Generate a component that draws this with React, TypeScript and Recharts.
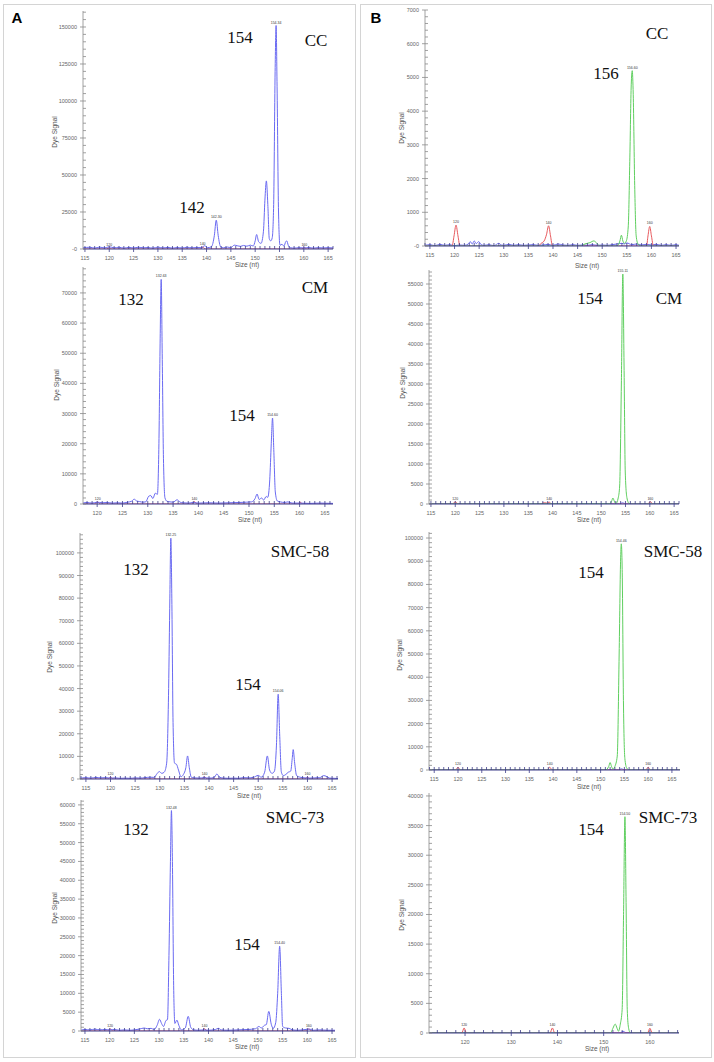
import React from "react";
import { LineChart, Line, XAxis, YAxis, ReferenceDot } from "recharts";

type Pt = [number, number];

// ---------- A: blue = sample dye, red = size standard ----------
const ccBlueA: Pt[] = [
  [114.6, 800], [116, 1200], [117, 600], [118, 1300], [119, 700], [120, 1500], [121, 800], [122, 1200],
  [123, 600], [124, 1100], [125, 700], [126, 1200], [127, 800], [128, 1000], [129, 600], [130, 1300],
  [131, 700], [132, 1100], [133, 600], [134, 1000], [135, 700], [136, 1200], [137, 800], [138, 1000],
  [139, 900], [139.6, 2200], [140.2, 900], [141.0, 1500], [141.6, 9000], [142.0, 19500], [142.4, 9000],
  [142.9, 1500], [143.5, 800], [144.3, 1300], [145, 900], [145.7, 2600], [146.3, 2200], [147, 1800],
  [147.6, 2400], [148.3, 1900], [149, 2600], [149.6, 2000], [150.0, 5500], [150.3, 9800], [150.7, 5000],
  [151.2, 3800], [151.7, 12000], [152.0, 33000], [152.3, 46000], [152.6, 30000], [152.9, 7000],
  [153.2, 5500], [153.5, 7500], [153.8, 30000], [154.1, 120000], [154.3, 151000], [154.5, 110000],
  [154.8, 25000], [155.1, 2500], [155.5, 3200], [155.9, 2000], [156.3, 5000], [156.5, 5500],
  [156.8, 2500], [157.2, 900], [158, 600], [159, 900], [160, 700], [161, 1000], [162, 600], [163, 900],
  [164, 700], [165, 900], [166, 700],
];
const ccRedA: Pt[] = [
  [114.6, 0], [119.5, 0], [120, 900], [120.5, 0], [138.6, 0], [139.2, 1200], [139.8, 0],
  [159.5, 0], [160.1, 900], [160.6, 0], [166, 0],
];
const cmBlueA: Pt[] = [
  [117.2, 300], [118, 500], [119, 300], [120, 600], [121, 400], [122, 500], [123, 300], [124, 400],
  [125, 300], [126, 600], [126.8, 900], [127.3, 1600], [127.8, 1000], [128.4, 800], [129.0, 600],
  [129.6, 700], [130.2, 2600], [130.6, 2800], [131.0, 1800], [131.5, 3600], [131.9, 3200],
  [132.2, 20000], [132.45, 55000], [132.65, 74500], [132.85, 50000], [133.1, 15000], [133.4, 2000],
  [133.8, 900], [134.4, 700], [135.0, 600], [135.8, 1400], [136.4, 600], [137, 400], [138, 300],
  [139, 500], [140, 300], [142, 400], [144, 300], [146, 400], [148, 500], [149.5, 600], [150.5, 700],
  [151.2, 1800], [151.6, 3300], [152.0, 1500], [152.5, 2000], [152.9, 1300], [153.4, 2500],
  [153.7, 2200], [154.1, 8000], [154.4, 20000], [154.65, 28500], [154.9, 18000], [155.2, 4000],
  [155.6, 1000], [156.2, 700], [157, 500], [157.7, 700], [158.5, 300], [160, 300], [162, 200],
  [164, 300], [166.6, 200],
];
const cmRedA: Pt[] = [
  [117.2, 0], [119.6, 0], [120.1, 700], [120.6, 0], [138.7, 0], [139.2, 800], [139.7, 0],
  [159.6, 0], [160.1, 600], [160.6, 0], [166.6, 0],
];
const smc58BlueA: Pt[] = [
  [113.8, 300], [115, 600], [116, 400], [117, 700], [118, 500], [119, 600], [120, 400], [121, 500],
  [122, 300], [123, 400], [124, 300], [125, 500], [126, 400], [127, 600], [128, 800], [128.8, 700],
  [129.5, 2500], [129.9, 3300], [130.4, 2500], [130.9, 3000], [131.4, 7000], [131.8, 40000],
  [132.05, 80000], [132.25, 106500], [132.45, 80000], [132.7, 25000], [133.0, 7000], [133.4, 6500],
  [133.8, 4000], [134.3, 1000], [134.8, 2000], [135.3, 5000], [135.65, 10200], [136.0, 5000],
  [136.4, 800], [137, 500], [138, 400], [139, 600], [140, 400], [141.0, 600], [141.6, 2200],
  [142.2, 700], [143, 400], [144, 300], [145, 400], [146, 300], [147, 600], [148, 500], [149, 700],
  [150, 1600], [150.6, 800], [151.3, 3000], [151.85, 10200], [152.3, 4000], [152.8, 2500],
  [153.3, 3500], [153.7, 15000], [154.05, 37500], [154.35, 20000], [154.7, 3000], [155.1, 1500],
  [155.6, 2000], [156.1, 3000], [156.6, 3500], [156.9, 9000], [157.1, 13000], [157.4, 7000],
  [157.8, 1500], [158.5, 800], [159.5, 500], [160.5, 400], [161.5, 500], [162.5, 600], [163.3, 1500],
  [163.8, 1200], [164.5, 400], [165.5, 300], [166.2, 200],
];
const smc58RedA: Pt[] = [
  [113.8, 0], [119.5, 0], [120, 900], [120.5, 0], [138.6, 0], [139.1, 900], [139.6, 0],
  [159.5, 0], [160, 900], [160.5, 0], [166.2, 0],
];
const smc73BlueA: Pt[] = [
  [114.2, 200], [115, 400], [116, 300], [117, 500], [118, 300], [119, 400], [120, 300], [121, 400],
  [122, 200], [123, 300], [124, 200], [125, 300], [126, 500], [127, 800], [127.6, 600], [128.4, 700],
  [129.0, 400], [129.6, 1500], [130.1, 3100], [130.5, 2000], [130.9, 1200], [131.4, 2800],
  [131.7, 3000], [132.0, 20000], [132.3, 45000], [132.5, 58500], [132.7, 45000], [132.95, 12000],
  [133.2, 2000], [133.6, 2900], [134.0, 1500], [134.5, 300], [135.3, 800], [135.9, 3900],
  [136.4, 1000], [137, 300], [138, 200], [139, 300], [140, 200], [141.4, 400], [142, 700],
  [142.6, 300], [144, 200], [146, 300], [148, 400], [149.5, 600], [150.2, 1200], [150.7, 800],
  [151.3, 1500], [151.7, 1700], [152.2, 5200], [152.7, 1800], [153.1, 700], [153.6, 2200],
  [154.0, 10000], [154.4, 22500], [154.75, 10000], [155.0, 1200], [155.6, 800], [156.3, 700],
  [157.0, 300], [158, 200], [159, 300], [160.5, 500], [161.2, 200], [162.5, 300], [164, 200],
  [165.6, 200],
];
const smc73RedA: Pt[] = [
  [114.2, 0], [119.6, 0], [120.1, 600], [120.6, 0], [138.7, 0], [139.2, 600], [139.7, 0],
  [159.8, 0], [160.3, 600], [160.8, 0], [165.6, 0],
];

// ---------- B: green = sample dye, red = size standard, blue = other dye ----------
const ccGreenB: Pt[] = [
  [114, 0], [145.5, 0], [146.5, 60], [147.5, 100], [148.3, 150], [148.8, 100], [149.5, 0], [153, 0],
  [153.6, 150], [153.9, 320], [154.2, 150], [154.5, 80], [154.9, 150], [155.3, 600], [155.6, 2500],
  [155.9, 4800], [156.1, 5200], [156.3, 4500], [156.6, 1800], [156.9, 300], [157.3, 50], [158, 0],
  [165.6, 0],
];
const ccRedB: Pt[] = [
  [114, 0], [119.5, 0], [119.9, 300], [120.3, 620], [120.7, 300], [121.1, 0], [137, 0], [137.6, 80],
  [138.2, 150], [138.7, 350], [139.1, 600], [139.5, 300], [139.9, 0], [159.0, 0], [159.3, 300],
  [159.65, 580], [160.0, 300], [160.4, 0], [165.6, 0],
];
const ccBlueB: Pt[] = [
  [114, 20], [115, 40], [116, 10], [117, 50], [118, 20], [119, 40], [120, 10], [121, 30], [122, 20],
  [122.8, 60], [123.2, 130], [123.6, 60], [124.0, 150], [124.4, 70], [124.9, 130], [125.4, 40],
  [126, 20], [127, 40], [128, 10], [129, 80], [129.5, 30], [130, 20], [131, 50], [132, 20], [133, 40],
  [134, 20], [135, 30], [136, 40], [137, 20], [138, 30], [139, 50], [140, 20], [141, 60], [142, 30],
  [143, 20], [144, 40], [145, 20], [146, 30], [147, 20], [148, 40], [149, 20], [150, 30], [151, 20],
  [152, 40], [153, 60], [154, 80], [154.5, 60], [155, 90], [156, 40], [157, 60], [158, 30], [159, 50],
  [160, 30], [161, 50], [162, 20], [163, 40], [164, 20], [165, 40], [165.6, 20],
];
const cmGreenB: Pt[] = [
  [114.6, 0], [151.8, 50], [152.2, 900], [152.4, 1500], [152.7, 700], [153.0, 50], [153.5, 1500],
  [153.8, 4500], [154.15, 30000], [154.45, 57500], [154.7, 35000], [154.95, 8000], [155.3, 1500],
  [155.7, 200], [156.2, 0], [166, 0],
];
const cmRedB: Pt[] = [
  [114.6, 0], [119.5, 0], [120, 600], [120.5, 0], [137.5, 0], [138.0, 250], [138.4, 300],
  [138.9, 200], [139.3, 500], [139.8, 0], [159.6, 0], [160.1, 600], [160.6, 0], [166, 0],
];
const cmBlueB: Pt[] = [
  [114.6, 50], [120, 80], [130, 50], [140, 80], [150, 50], [153.8, 80], [154.4, 300], [155, 60],
  [160, 80], [166, 50],
];
const smc58GreenB: Pt[] = [
  [113.9, 0], [151, 0], [151.7, 1500], [152.0, 3200], [152.3, 1500], [152.6, 400], [153.0, 1500],
  [153.5, 6000], [153.9, 50000], [154.2, 90000], [154.35, 97500], [154.55, 85000], [154.8, 30000],
  [155.1, 5000], [155.5, 800], [156, 0], [166.7, 0],
];
const smc58RedB: Pt[] = [
  [113.9, 0], [119.5, 0], [120, 1200], [120.5, 0], [138.8, 0], [139.3, 1200], [139.8, 0],
  [159.5, 0], [160, 1200], [160.5, 0], [166.7, 0],
];
const smc58BlueB: Pt[] = [
  [113.9, 80], [120, 100], [130, 80], [140, 100], [150, 80], [153.8, 100], [154.4, 500], [155, 100],
  [160, 80], [166.7, 80],
];
const smc73GreenB: Pt[] = [
  [112.2, 0], [151.5, 0], [152.0, 800], [152.5, 1500], [152.9, 800], [153.2, 300], [153.6, 1500],
  [154.0, 4000], [154.3, 20000], [154.6, 36500], [154.85, 22000], [155.1, 4000], [155.4, 800],
  [155.8, 0], [166.3, 0],
];
const smc73RedB: Pt[] = [
  [112.2, 0], [119.3, 0], [119.8, 850], [120.3, 0], [138.4, 0], [138.9, 850], [139.4, 0],
  [159.5, 0], [160.0, 800], [160.5, 0], [166.3, 0],
];
const smc73BlueB: Pt[] = [
  [112.2, 40], [120, 60], [130, 40], [140, 60], [150, 40], [153.7, 60], [154.2, 300], [154.8, 60],
  [160, 50], [166.3, 40],
];

// ---------- tick labels ----------
const SIZE_TICKS = [115, 120, 125, 130, 135, 140, 145, 150, 155, 160, 165];
const SIZE_TICKS_CM = [120, 125, 130, 135, 140, 145, 150, 155, 160, 165];
const SIZE_TICKS_WIDE = [120, 130, 140, 150, 160];
const Y_CC_A = [0, 25000, 50000, 75000, 100000, 125000, 150000];
const Y_CM_A = [0, 10000, 20000, 30000, 40000, 50000, 60000, 70000];
const Y_58_A = [0, 10000, 20000, 30000, 40000, 50000, 60000, 70000, 80000, 90000, 100000];
const Y_73_A = [0, 5000, 10000, 15000, 20000, 25000, 30000, 35000, 40000, 45000, 50000, 55000, 60000];
const Y_CC_B = [0, 1000, 2000, 3000, 4000, 5000, 6000, 7000];
const Y_CM_B = [0, 5000, 10000, 15000, 20000, 25000, 30000, 35000, 40000, 45000, 50000, 55000];
const Y_58_B = [0, 10000, 20000, 30000, 40000, 50000, 60000, 70000, 80000, 90000, 100000];
const Y_73_B = [0, 5000, 10000, 15000, 20000, 25000, 30000, 35000, 40000];

const BLUE = "#6a6af2";
const RED = "#e8585c";
const GREEN = "#5fcf5f";
const AXIS = "#8a8a8a";
const BASE = "#3c3c8a";

const toPts = (arr: Pt[]) => arr.map(([x, y]) => ({ x, y }));

const range = (from: number, to: number, step: number) => {
  const out: number[] = [];
  for (let v = Math.ceil(from / step) * step; v <= to + 1e-9; v += step) out.push(Math.round(v * 100) / 100);
  return out;
};

interface Panel {
  col: number; // left of column
  x0: number; x1: number; yTop: number; yBase: number;
  xDom: [number, number]; yMax: number;
  xMajor: number[]; xMinor: number;
  yMajor: number[]; yMinor: number;
  zeroLabel: string;
  traces: { data: Pt[]; color: string }[];
  tags: [number, number, string][];
  yTitle: [number, number];
  xTitle: [number, number];
  notes: [string, number, number][];
}

const panels: Panel[] = [
  {
    col: 0, x0: 83, x1: 333, yTop: 11, yBase: 249, xDom: [114.6, 166], yMax: 160800,
    xMajor: SIZE_TICKS, xMinor: 1, yMajor: Y_CC_A, yMinor: 5000, zeroLabel: "-0",
    traces: [{ data: ccRedA, color: RED }, { data: ccBlueA, color: BLUE }],
    tags: [[142.0, 19500, "142.30"], [154.3, 151000, "154.34"], [120, 900, "120"], [139.2, 1200, "140"], [160.1, 900, "160"]],
    yTitle: [55, 132], xTitle: [247, 265],
    notes: [["154", 240, 37], ["CC", 316, 40], ["142", 192, 207]],
  },
  {
    col: 0, x0: 83, x1: 333, yTop: 267, yBase: 504, xDom: [117.2, 166.6], yMax: 78600,
    xMajor: SIZE_TICKS_CM, xMinor: 1, yMajor: Y_CM_A, yMinor: 2000, zeroLabel: "0",
    traces: [{ data: cmRedA, color: RED }, { data: cmBlueA, color: BLUE }],
    tags: [[132.65, 74500, "132.63"], [154.65, 28500, "154.60"], [120.1, 700, "120"], [139.2, 800, "140"]],
    yTitle: [57, 385], xTitle: [250, 520],
    notes: [["132", 131, 299], ["CM", 315, 287], ["154", 242, 415]],
  },
  {
    col: 0, x0: 80, x1: 338, yTop: 533, yBase: 779, xDom: [113.8, 166.2], yMax: 108800,
    xMajor: SIZE_TICKS, xMinor: 1, yMajor: Y_58_A, yMinor: 2000, zeroLabel: "0",
    traces: [{ data: smc58RedA, color: RED }, { data: smc58BlueA, color: BLUE }],
    tags: [[132.25, 106500, "132.25"], [154.05, 37500, "154.06"], [120, 900, "120"], [139.1, 900, "140"], [160, 900, "160"]],
    yTitle: [50, 657], xTitle: [249, 796],
    notes: [["SMC-58", 300, 551], ["132", 136, 569], ["154", 248, 684]],
  },
  {
    col: 0, x0: 81, x1: 335, yTop: 800, yBase: 1031, xDom: [114.2, 165.6], yMax: 61300,
    xMajor: SIZE_TICKS, xMinor: 1, yMajor: Y_73_A, yMinor: 1000, zeroLabel: "0",
    traces: [{ data: smc73RedA, color: RED }, { data: smc73BlueA, color: BLUE }],
    tags: [[132.5, 58500, "132.48"], [154.4, 22500, "154.40"], [120.1, 600, "120"], [139.2, 600, "140"], [160.3, 600, "160"]],
    yTitle: [55, 908], xTitle: [247, 1047],
    notes: [["SMC-73", 295, 817], ["132", 136, 829], ["154", 247, 944]],
  },
  {
    col: 357, x0: 425, x1: 679, yTop: 10, yBase: 246, xDom: [114, 165.6], yMax: 7000,
    xMajor: SIZE_TICKS, xMinor: 1, yMajor: Y_CC_B, yMinor: 200, zeroLabel: "-0",
    traces: [{ data: ccBlueB, color: BLUE }, { data: ccRedB, color: RED }, { data: ccGreenB, color: GREEN }],
    tags: [[156.1, 5200, "156.60"], [120.3, 620, "120"], [139.1, 600, "140"], [159.65, 580, "160"]],
    yTitle: [402, 128], xTitle: [587, 266],
    notes: [["CC", 657, 33], ["156", 606, 73]],
  },
  {
    col: 357, x0: 429, x1: 679, yTop: 270, yBase: 504, xDom: [114.6, 166], yMax: 58500,
    xMajor: SIZE_TICKS, xMinor: 1, yMajor: Y_CM_B, yMinor: 1000, zeroLabel: "0",
    traces: [{ data: cmBlueB, color: BLUE }, { data: cmRedB, color: RED }, { data: cmGreenB, color: GREEN }],
    tags: [[154.45, 57500, "155.11"], [120, 600, "120"], [139.3, 500, "140"], [160.1, 600, "160"]],
    yTitle: [403, 383], xTitle: [589, 520],
    notes: [["154", 590, 298], ["CM", 669, 298]],
  },
  {
    col: 357, x0: 429, x1: 680, yTop: 532, yBase: 770, xDom: [113.9, 166.7], yMax: 102600,
    xMajor: SIZE_TICKS, xMinor: 1, yMajor: Y_58_B, yMinor: 2000, zeroLabel: "0",
    traces: [{ data: smc58BlueB, color: BLUE }, { data: smc58RedB, color: RED }, { data: smc58GreenB, color: GREEN }],
    tags: [[154.35, 97500, "154.46"], [120, 1200, "120"], [139.3, 1200, "140"], [160, 1200, "160"]],
    yTitle: [400, 655], xTitle: [589, 787],
    notes: [["SMC-58", 673, 551], ["154", 591, 572]],
  },
  {
    col: 357, x0: 429, x1: 679, yTop: 793, yBase: 1033, xDom: [112.2, 166.3], yMax: 40500,
    xMajor: SIZE_TICKS_WIDE, xMinor: 2, yMajor: Y_73_B, yMinor: 1000, zeroLabel: "0",
    traces: [{ data: smc73BlueB, color: BLUE }, { data: smc73RedB, color: RED }, { data: smc73GreenB, color: GREEN }],
    tags: [[154.6, 36500, "154.50"], [119.8, 850, "120"], [138.9, 850, "140"], [160, 800, "160"]],
    yTitle: [402, 915], xTitle: [597, 1049],
    notes: [["SMC-73", 668, 817], ["154", 591, 829]],
  },
];

const makeXTick = (majors: number[]) => (props: any) => {
  const { x, y, payload } = props;
  const major = majors.includes(payload.value);
  return (
    <g>
      <line x1={x} x2={x} y1={y - 3} y2={major ? y + 3 : y} stroke={BASE} strokeWidth={0.8} />
      {major && (
        <text x={x} y={y + 11} textAnchor="middle" fontSize={5.5} fill="#666">
          {payload.value}
        </text>
      )}
    </g>
  );
};

const makeYTick = (majors: number[], zeroLabel: string) => (props: any) => {
  const { x, y, payload } = props;
  const major = majors.includes(payload.value);
  return (
    <g>
      <line x1={major ? x - 3 : x} x2={x + 3} y1={y} y2={y} stroke={AXIS} strokeWidth={0.8} />
      {major && (
        <text x={x - 6} y={y + 2} textAnchor="end" fontSize={5.5} fill="#666">
          {payload.value === 0 ? zeroLabel : payload.value}
        </text>
      )}
    </g>
  );
};

function Trace({ p }: { p: Panel }) {
  const PAD_T = 16;
  const PAD_B = 22;
  const top = p.yTop - PAD_T;
  const height = p.yBase + PAD_B - top;
  const xTicks = range(p.xDom[0], p.xDom[1], p.xMinor);
  const yTicks = range(0, p.yMax, p.yMinor);
  return (
    <div style={{ position: "absolute", left: p.col, top }}>
      <LineChart
        width={357}
        height={height}
        margin={{ top: PAD_T, bottom: PAD_B - 1, left: p.x0 - p.col - 1, right: p.col + 357 - p.x1 }}
      >
        <XAxis
          type="number"
          dataKey="x"
          domain={p.xDom}
          allowDataOverflow
          ticks={xTicks}
          interval={0}
          height={1}
          tickLine={false}
          tickSize={0}
          tickMargin={0}
          axisLine={{ stroke: BASE, strokeWidth: 1 }}
          tick={makeXTick(p.xMajor)}
        />
        <YAxis
          type="number"
          domain={[0, p.yMax]}
          allowDataOverflow
          ticks={yTicks}
          interval={0}
          width={1}
          tickLine={false}
          tickSize={0}
          tickMargin={0}
          axisLine={{ stroke: AXIS, strokeWidth: 0.8 }}
          tick={makeYTick(p.yMajor, p.zeroLabel)}
        />
        {p.traces.map((t, i) => (
          <Line
            key={i}
            data={toPts(t.data)}
            dataKey="y"
            type="monotone"
            stroke={t.color}
            strokeWidth={1}
            dot={false}
            activeDot={false}
            isAnimationActive={false}
          />
        ))}
        {p.tags.map(([x, y, s], i) => (
          <ReferenceDot
            key={"t" + i}
            x={x}
            y={y}
            r={0}
            ifOverflow="visible"
            stroke="none"
            label={{ value: s, position: "top", fontSize: 3.5, fill: "#333", offset: 2 }}
          />
        ))}
      </LineChart>
    </div>
  );
}

const centered = (x: number, y: number): React.CSSProperties => ({
  position: "absolute",
  left: x,
  top: y,
  transform: "translate(-50%, -50%)",
  whiteSpace: "nowrap",
  lineHeight: 1,
});

export default function App() {
  return (
    <div
      style={{
        position: "absolute",
        left: 0,
        top: 0,
        width: 714,
        height: 1062,
        background: "#fff",
        fontFamily: "'Liberation Sans', Arial, sans-serif",
        overflow: "hidden",
      }}
    >
      <div style={{ position: "absolute", left: 3, top: 4, width: 351, height: 1052, border: "1px solid #d4d4d4" }} />
      <div style={{ position: "absolute", left: 360, top: 4, width: 350, height: 1052, border: "1px solid #d4d4d4" }} />
      <div style={{ ...centered(17, 17), fontSize: 15, fontWeight: "bold" }}>A</div>
      <div style={{ ...centered(376, 17), fontSize: 15, fontWeight: "bold" }}>B</div>

      {panels.map((p, i) => (
        <Trace key={i} p={p} />
      ))}

      {panels.map((p, i) => (
        <React.Fragment key={"lbl" + i}>
          <div style={{ ...centered(p.yTitle[0], p.yTitle[1]), transform: "translate(-50%, -50%) rotate(-90deg)", fontSize: 6.5, color: "#555" }}>
            Dye Signal
          </div>
          <div style={{ ...centered(p.xTitle[0], p.xTitle[1]), fontSize: 6.5, color: "#555" }}>Size (nt)</div>
          {p.notes.map(([s, x, y], j) => (
            <div key={j} style={{ ...centered(x, y), fontFamily: "'Liberation Serif', 'Times New Roman', serif", fontSize: 17, color: "#111" }}>
              {s}
            </div>
          ))}
        </React.Fragment>
      ))}
    </div>
  );
}
